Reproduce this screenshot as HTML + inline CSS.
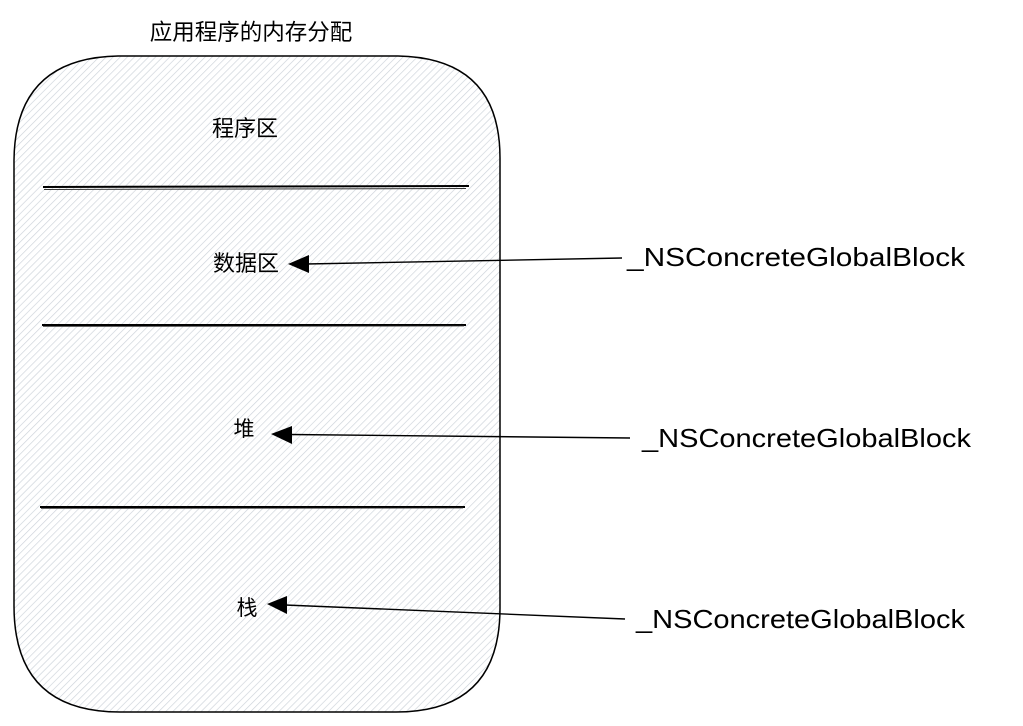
<!DOCTYPE html>
<html>
<head>
<meta charset="utf-8">
<style>
  html, body { margin:0; padding:0; background:#fff; }
  body { width:1023px; height:726px; overflow:hidden; }
  svg { display:block; }
  text { font-family: "Liberation Sans", "Noto Sans CJK SC", sans-serif; fill:#000; }
</style>
</head>
<body>
<svg width="1023" height="726" viewBox="0 0 1023 726" xmlns="http://www.w3.org/2000/svg">
  <defs>
    <pattern id="hatch" patternUnits="userSpaceOnUse" width="5" height="5" patternTransform="rotate(45)">
      <rect width="5" height="5" fill="#ffffff"/>
      <line x1="0" y1="0" x2="0" y2="5" stroke="#ccd2d9" stroke-width="1.3"/>
    </pattern>
  </defs>

  <!-- title -->
  <text x="251" y="40" font-size="22.5" text-anchor="middle">应用程序的内存分配</text>

  <!-- main rounded container -->
  <path d="M 118 56 L 398 56 Q 500 58 500 158 L 500 608 Q 500 712 396 712 L 120 712 Q 14 712 14 606 L 14 160 Q 15 58 118 56 Z"
        fill="url(#hatch)" stroke="#000" stroke-width="1.5"/>

  <!-- divider lines (sketchy double) -->
  <path d="M 43 187 L 469 186" stroke="#000" stroke-width="2"/>
  <path d="M 44 189.5 L 466 188.5" stroke="#333" stroke-width="1"/>
  <path d="M 42 325 L 466 325" stroke="#000" stroke-width="2"/>
  <path d="M 43 326.5 L 464 326" stroke="#333" stroke-width="0.8"/>
  <path d="M 40 507 L 465 507" stroke="#000" stroke-width="2"/>
  <path d="M 41 508.5 L 463 508" stroke="#333" stroke-width="0.8"/>

  <!-- section labels -->
  <text x="245" y="136" font-size="22" text-anchor="middle">程序区</text>
  <text x="246" y="271" font-size="22" text-anchor="middle">数据区</text>
  <text x="244" y="436" font-size="21" text-anchor="middle">堆</text>
  <text x="247" y="615" font-size="21" text-anchor="middle">栈</text>

  <!-- arrows -->
  <line x1="306" y1="264" x2="622" y2="258" stroke="#000" stroke-width="1.4"/>
  <polygon points="288,264 309,255 309,273" fill="#000"/>

  <line x1="290" y1="434.5" x2="630" y2="438" stroke="#000" stroke-width="1.4"/>
  <polygon points="271,434 292,426 292,444" fill="#000"/>

  <line x1="285" y1="605" x2="625" y2="619" stroke="#000" stroke-width="1.4"/>
  <polygon points="267,604 287,596 287,614" fill="#000"/>

  <!-- right labels -->
  <text x="627" y="266" font-size="26" textLength="338" lengthAdjust="spacingAndGlyphs">_NSConcreteGlobalBlock</text>
  <text x="642" y="447" font-size="26" textLength="329" lengthAdjust="spacingAndGlyphs">_NSConcreteGlobalBlock</text>
  <text x="636" y="628" font-size="26" textLength="329" lengthAdjust="spacingAndGlyphs">_NSConcreteGlobalBlock</text>
</svg>
</body>
</html>
